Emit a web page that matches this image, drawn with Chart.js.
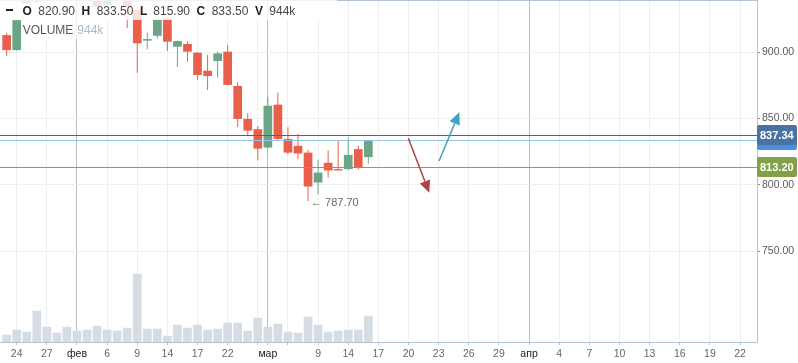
<!DOCTYPE html>
<html>
<head>
<meta charset="utf-8">
<script src="https://cdn.jsdelivr.net/npm/chart.js@4"></script>
<style>
    html, body { margin: 0; padding: 0; background: #fff; }
    #wrap { position: relative; width: 798px; height: 363px; font-family: "Liberation Sans", Arial, sans-serif; }
    canvas { display: block; }
    .hdr { position: absolute; left: 0; background: rgba(255, 255, 255, 0.8); }
    .hdr span { position: absolute; top: 1px; font-size: 12px; line-height: 20px; white-space: nowrap; }
    .hdr .k { font-weight: bold; color: #222; }
    .hdr .v { color: #444; }
    #row2 span { top: 0; }
    #dash { position: absolute; left: 6px; top: 8.5px; width: 7px; height: 2.5px; background: #222; }
</style>
</head>
<body>
<div id="wrap">
    <canvas id="chart" width="798" height="363"></canvas>
    <div class="hdr" id="row1" style="top:0;width:337px;height:20px">
        <div id="dash"></div>
        <span class="k" style="left:22.5px">O</span><span class="v" id="vO" style="left:38.3px"></span>
        <span class="k" style="left:81.5px">H</span><span class="v" id="vH" style="left:96.7px"></span>
        <span class="k" style="left:140px">L</span><span class="v" id="vL" style="left:153.3px"></span>
        <span class="k" style="left:196.5px">C</span><span class="v" id="vC" style="left:211.7px"></span>
        <span class="k" style="left:255px">V</span><span class="v" id="vV" style="left:269.3px"></span>
    </div>
    <div class="hdr" id="row2" style="top:20px;left:22px;width:84px;height:19px">
        <span style="left:0.7px;color:#555">VOLUME</span><span id="vV2" style="left:55.3px;color:#a9b9c9"></span>
    </div>
</div>
<script>
// торговые дни (23.01 - 16.03.2017)
const dates = ['2017-01-23','2017-01-24','2017-01-25','2017-01-26','2017-01-27','2017-01-30','2017-01-31',
    '2017-02-01','2017-02-02','2017-02-03','2017-02-06','2017-02-07','2017-02-08','2017-02-09','2017-02-10',
    '2017-02-13','2017-02-14','2017-02-15','2017-02-16','2017-02-17','2017-02-20','2017-02-21','2017-02-22',
    '2017-02-24','2017-02-27','2017-02-28','2017-03-01','2017-03-02','2017-03-03','2017-03-06','2017-03-07',
    '2017-03-09','2017-03-10','2017-03-13','2017-03-14','2017-03-15','2017-03-16'];

const opens  = [913.0, 901.7, 937.0, 938.2, 953.0, 946.0, 950.0, 944.0, 952.0, 946.0, 935.7, 950.0, 945.0,
    932.0, 908.8, 912.5, 925.5, 904.2, 906.3, 899.7, 886.1, 893.4, 900.5, 874.6, 849.7, 842.0, 828.1,
    860.5, 834.6, 829.4, 824.3, 801.7, 816.6, 811.8, 811.8, 826.9, 820.9];
const highs  = [914.8, 924.6, 950.0, 955.0, 956.0, 953.0, 951.0, 955.0, 954.0, 948.0, 946.0, 952.0, 947.0,
    934.0, 914.8, 926.0, 927.0, 909.0, 908.3, 900.2, 898.0, 900.5, 905.5, 877.4, 854.0, 844.4, 866.5,
    869.6, 843.5, 838.4, 826.4, 818.8, 825.8, 833.4, 835.7, 829.4, 833.5];
const lows   = [897.2, 901.2, 936.0, 937.5, 944.0, 943.0, 941.0, 942.0, 945.0, 934.0, 935.0, 941.0, 918.3,
    884.6, 902.4, 910.6, 901.0, 889.0, 892.9, 879.1, 871.6, 880.9, 875.0, 843.5, 837.1, 818.3, 827.5,
    833.4, 823.3, 819.3, 787.7, 792.9, 805.5, 810.8, 811.0, 811.8, 815.9];
const closes = [901.7, 924.3, 948.0, 952.0, 946.0, 950.0, 944.0, 952.0, 947.0, 934.5, 944.0, 943.0, 934.2,
    906.8, 910.0, 924.9, 908.0, 908.5, 900.5, 882.9, 882.1, 899.2, 875.4, 849.7, 840.9, 827.3, 859.7,
    834.6, 824.3, 823.6, 798.7, 809.2, 810.8, 810.8, 822.6, 813.0, 833.5];
// объём, тыс.
const volumes = [262, 442, 370, 1124, 549, 334, 549, 406, 442, 585, 442, 406, 513, 2452, 477, 477, 226,
    621, 513, 621, 442, 477, 693, 693, 406, 872, 549, 657, 370, 334, 908, 621, 370, 406, 442, 442, 944];

// подписи оси X (номер слота: 0 = 23.01, после 17.03 — календарные дни)
const xTickLabels = ['24','27','фев','6','9','14','17','22','','мар','','9','14','17',
    '20','23','26','29','апр','4','7','10','13','16','19','22'];
const xTickSlots  = [1, 4, 7, 10, 13, 16, 19, 22, 25, 26, 28, 31, 34, 37,
    40, 43, 46, 49, 52, 55, 58, 61, 64, 67, 70, 73];
const monthNames = ['фев', 'мар', 'апр'];

const priceTicks = [750, 800, 850, 900];
const alertLevels = [837.34, 813.20];
// нарисованные стрелки: [слот, цена]
const arrowDown = [[39.98, 835.1], [42.07, 794.0]];
const arrowUp   = [[43.04, 818.0], [45.06, 854.7]];

const UP = '#6aa686', DOWN = '#e8604c';
const FONT = "'Liberation Sans', Arial, sans-serif";

const last = closes.length - 1;
document.getElementById('vO').textContent = opens[last].toFixed(2);
document.getElementById('vH').textContent = highs[last].toFixed(2);
document.getElementById('vL').textContent = lows[last].toFixed(2);
document.getElementById('vC').textContent = closes[last].toFixed(2);
document.getElementById('vV').textContent = volumes[last] + 'k';
document.getElementById('vV2').textContent = volumes[last] + 'k';

const colors = closes.map((c, i) => c >= opens[i] ? UP : DOWN);
const bodies = dates.map((d, i) => ({ x: i, y: [opens[i], closes[i]] }));
const wicks = dates.map((d, i) => ({ x: i, y: [lows[i], highs[i]] }));
const vols = dates.map((d, i) => ({ x: i, y: volumes[i] }));

function hline(ctx, area, py, color) {
    const yy = Math.round(py) + 0.5;
    ctx.strokeStyle = color;
    ctx.lineWidth = 1;
    ctx.beginPath();
    ctx.moveTo(area.left, yy);
    ctx.lineTo(area.right, yy);
    ctx.stroke();
}

function arrow(ctx, x, y, pts, color) {
    const x0 = x.getPixelForValue(pts[0][0]), y0 = y.getPixelForValue(pts[0][1]);
    const x1 = x.getPixelForValue(pts[1][0]), y1 = y.getPixelForValue(pts[1][1]);
    const ang = Math.atan2(y1 - y0, x1 - x0);
    const len = 12, half = 5.5;
    const bx = x1 - Math.cos(ang) * len, by = y1 - Math.sin(ang) * len;
    ctx.strokeStyle = color;
    ctx.fillStyle = color;
    ctx.lineWidth = 1.5;
    ctx.beginPath();
    ctx.moveTo(x0, y0);
    ctx.lineTo(bx, by);
    ctx.stroke();
    ctx.beginPath();
    ctx.moveTo(x1, y1);
    ctx.lineTo(bx + Math.sin(ang) * half, by - Math.cos(ang) * half);
    ctx.lineTo(bx - Math.sin(ang) * half, by + Math.cos(ang) * half);
    ctx.closePath();
    ctx.fill();
}

function priceTag(ctx, y, value, bg) {
    const py = y.getPixelForValue(value);
    ctx.fillStyle = bg;
    ctx.beginPath();
    ctx.roundRect(757, Math.round(py) - 10, 40, 20, 2);
    ctx.fill();
    ctx.fillStyle = '#fff';
    ctx.font = 'bold 11px ' + FONT;
    ctx.textAlign = 'left';
    ctx.textBaseline = 'middle';
    ctx.fillText(value.toFixed(2), 760, Math.round(py) + 0.5);
}

const extras = {
    id: 'extras',
    afterDatasetsDraw(chart) {
        const { ctx, chartArea: a, scales: { x, y } } = chart;
        ctx.save();
        // верхняя рамка
        ctx.strokeStyle = '#b4c3d1';
        ctx.lineWidth = 1;
        ctx.beginPath();
        ctx.moveTo(a.left, a.top + 0.5);
        ctx.lineTo(a.right, a.top + 0.5);
        ctx.stroke();

        hline(ctx, a, y.getPixelForValue(closes[last]), '#93c2ea');
        hline(ctx, a, y.getPixelForValue(alertLevels[0]), '#3a67a0');
        hline(ctx, a, y.getPixelForValue(alertLevels[1]), '#87a352');

        arrow(ctx, x, y, arrowDown, '#b54242');
        arrow(ctx, x, y, arrowUp, '#3fa3c3');

        // минимум периода
        const minLow = Math.min(...lows);
        const iMin = lows.indexOf(minLow);
        ctx.fillStyle = '#6b6b6b';
        ctx.font = '11px ' + FONT;
        ctx.textAlign = 'left';
        ctx.textBaseline = 'middle';
        ctx.fillText('\u2190 ' + minLow.toFixed(2), x.getPixelForValue(iMin) + 3, y.getPixelForValue(minLow) + 2);
        ctx.restore();
    },
    afterDraw(chart) {
        const { ctx, scales: { y } } = chart;
        ctx.save();
        priceTag(ctx, y, closes[last], '#4a8fdc');
        priceTag(ctx, y, alertLevels[0], '#4a72a3');
        priceTag(ctx, y, alertLevels[1], '#83a048');
        ctx.restore();
    }
};

new Chart(document.getElementById('chart'), {
    type: 'bar',
    data: {
        datasets: [
            { label: 'body', data: bodies, backgroundColor: colors, barThickness: 8.7, grouped: false, order: 1, minBarLength: 1, inflateAmount: 0 },
            { label: 'wick', data: wicks, backgroundColor: colors, barThickness: 1, grouped: false, order: 2, inflateAmount: 0 },
            { label: 'volume', data: vols, backgroundColor: '#d5dce3', barThickness: 8.7, grouped: false, order: 3, yAxisID: 'yv', inflateAmount: 0 }
        ]
    },
    options: {
        responsive: false,
        animation: false,
        layout: { padding: 0, autoPadding: false },
        plugins: { legend: { display: false }, tooltip: { enabled: false } },
        scales: {
            x: {
                type: 'linear',
                min: -0.662,
                max: 74.69,
                offset: false,
                afterBuildTicks: axis => { axis.ticks = xTickSlots.map(v => ({ value: v })); },
                afterFit: axis => { axis.height = 21; axis.paddingLeft = 0; axis.paddingRight = 0; },
                grid: {
                    offset: false,
                    color: c => monthNames.includes(xTickLabels[c.index]) ? '#bdbdbd' : '#efefef',
                    tickLength: 3,
                    tickColor: '#b4c3d1'
                },
                border: { color: '#b4c3d1' },
                ticks: {
                    autoSkip: false,
                    maxRotation: 0,
                    padding: 3,
                    font: { size: 10.5, family: FONT },
                    color: c => monthNames.includes(xTickLabels[c.index]) ? '#222' : '#666',
                    callback: (v, i) => xTickLabels[i]
                }
            },
            y: {
                type: 'linear',
                position: 'right',
                min: 681.3,
                max: 939.5,
                afterBuildTicks: axis => { axis.ticks = priceTicks.map(v => ({ value: v })); },
                afterFit: axis => { axis.width = 41; axis.paddingTop = 0; axis.paddingBottom = 0; },
                grid: { color: '#efefef', tickLength: 3, tickColor: '#8a8a8a' },
                border: { color: '#b4c3d1' },
                ticks: {
                    padding: 2,
                    font: { size: 10.5, family: FONT },
                    color: '#5a5a5a',
                    callback: v => v.toFixed(2)
                }
            },
            yv: { display: false, min: 0, max: 12290 }
        }
    },
    plugins: [extras]
});
</script>
</body>
</html>
